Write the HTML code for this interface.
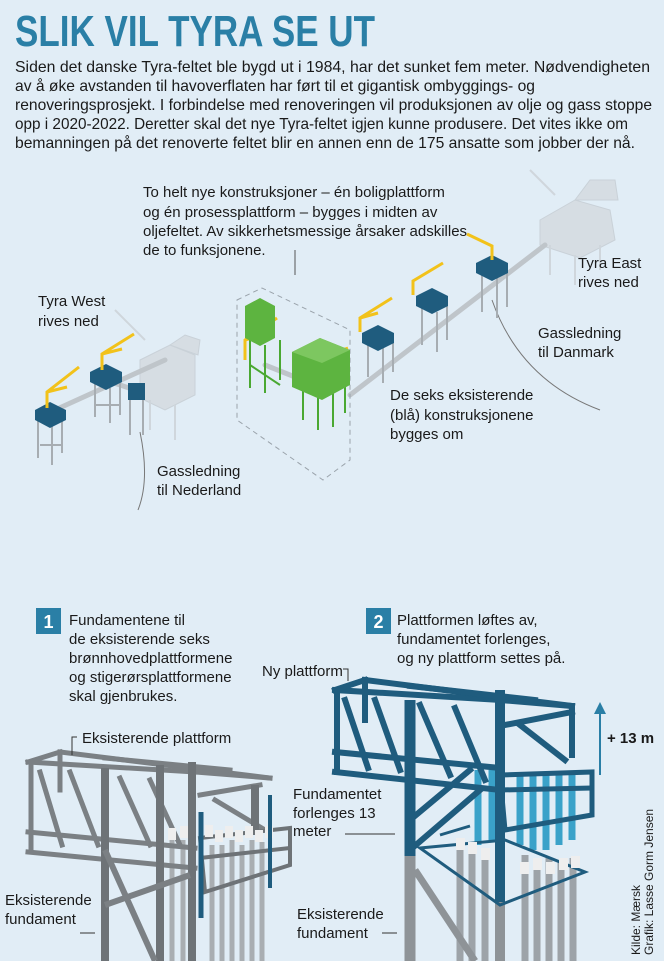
<!DOCTYPE html>
<html><head><meta charset="utf-8"><style>
html,body{margin:0;padding:0;background:#e1edf6;}
svg{display:block}
text{font-family:"Liberation Sans Narrow","Liberation Sans",sans-serif;fill:#1a1a1a}
</style></head><body>
<svg width="664" height="961" viewBox="0 0 664 961" xmlns="http://www.w3.org/2000/svg">
<rect width="664" height="961" fill="#e1edf6"/>
<text x="15" y="46" font-size="44" font-weight="bold" style="fill:#2a7fa6" textLength="360" lengthAdjust="spacingAndGlyphs">SLIK VIL TYRA SE UT</text>
<g font-size="16">
<text x="15" y="72" textLength="635" lengthAdjust="spacingAndGlyphs">Siden det danske Tyra-feltet ble bygd ut i 1984, har det sunket fem meter. Nødvendigheten</text>
<text x="15" y="91" textLength="520" lengthAdjust="spacingAndGlyphs">av å øke avstanden til havoverflaten har ført til et gigantisk ombyggings- og</text>
<text x="15" y="110" textLength="637" lengthAdjust="spacingAndGlyphs">renoveringsprosjekt. I forbindelse med renoveringen vil produksjonen av olje og gass stoppe</text>
<text x="15" y="129" textLength="613" lengthAdjust="spacingAndGlyphs">opp i 2020-2022. Deretter skal det nye Tyra-feltet igjen kunne produsere. Det vites ikke om</text>
<text x="15" y="148" textLength="620" lengthAdjust="spacingAndGlyphs">bemanningen på det renoverte feltet blir en annen enn de 175 ansatte som jobber der nå.</text>
</g>

<!-- map -->
<g>
<g fill="#d6dde3" stroke="#c9d1d8">
<polygon points="140,360 170,345 195,355 195,395 165,410 140,398"/>
<polygon points="170,345 185,335 200,340 198,355"/>
<polygon points="540,220 575,200 610,210 615,240 580,258 540,245"/>
<polygon points="575,200 590,180 615,180 618,200"/>
</g>
<g stroke="#cfd6dc" stroke-width="2">
<line x1="150" y1="400" x2="150" y2="430"/><line x1="175" y1="405" x2="175" y2="440"/>
<line x1="550" y1="245" x2="550" y2="275"/><line x1="575" y1="255" x2="575" y2="285"/><line x1="600" y1="245" x2="600" y2="270"/>
<line x1="115" y1="310" x2="145" y2="340"/><line x1="530" y1="170" x2="555" y2="195"/>
</g>
<g stroke="#bfc5ca" stroke-width="5" stroke-linecap="round">
<line x1="55" y1="410" x2="165" y2="360"/>
<line x1="105" y1="380" x2="135" y2="390"/>
<line x1="265" y1="365" x2="310" y2="383"/>
<line x1="350" y1="395" x2="545" y2="245"/>
</g>
<polygon points="237,300 262,288 350,330 350,460 323,480 237,420" fill="none" stroke="#9aa3ab" stroke-dasharray="5,4"/>
<line x1="295" y1="250" x2="295" y2="275" stroke="#555"/>
<path d="M140 432 Q150 480 138 510" fill="none" stroke="#777"/>
<path d="M492 300 Q520 380 600 410" fill="none" stroke="#777"/>
<g stroke="#a7adb2" stroke-width="2" fill="none">
<path d="M38 418 v40 M52 425 v40 M62 418 v35 M40 445 h22"/>
<path d="M95 382 v35 M110 388 v35 M120 380 v35 M95 405 h25"/>
<path d="M130 400 v35 M143 400 v35"/>
<path d="M368 342 v35 M383 348 v35 M393 342 v30"/>
<path d="M422 305 v40 M437 312 v40 M447 305 v35"/>
<path d="M482 272 v40 M497 278 v40 M507 272 v35"/>
</g>
<g fill="#1f5c7e">
<polygon points="35,410 50,402 66,410 66,420 50,428 35,420"/>
<polygon points="90,372 106,364 122,372 122,382 106,390 90,382"/>
<rect x="128" y="383" width="17" height="17"/>
<polygon points="362,333 378,325 394,333 394,343 378,351 362,343"/>
<polygon points="416,296 432,288 448,296 448,306 432,314 416,306"/>
<polygon points="476,263 492,255 508,263 508,273 492,281 476,273"/>
</g>
<g stroke="#f2c21a" stroke-width="3" fill="none">
<path d="M47 408 v-16 l32 -25 M47 392 l20 -5"/>
<path d="M102 370 v-16 l32 -20 M102 354 l20 -5"/>
<path d="M360 332 v-14 l32 -20 M360 318 l18 -5"/>
<path d="M413 295 v-14 l30 -18"/>
<path d="M492 260 v-14 l-25 -12"/>
<path d="M245 360 v-20 l32 -22 M245 340 l18 -5"/>
<path d="M320 370 v-12 l28 -10"/>
</g>
<g stroke="#4aa832" stroke-width="2" fill="none">
<path d="M250 340 v48 M265 345 v48 M280 340 v40 M250 365 l30 20"/>
<path d="M303 390 v30 M318 395 v35 M333 392 v35 M345 385 v28"/>
</g>
<g fill="#5db440">
<polygon points="245,306 260,298 275,306 275,338 260,346 245,338"/>
<polygon points="292,352 320,338 350,350 350,385 322,400 292,387"/>
</g>
<g fill="#7dc760"><polygon points="292,352 320,338 350,350 322,363"/></g>
</g>
<g font-size="15">
<text x="143" y="197">To helt nye konstruksjoner – én boligplattform</text>
<text x="143" y="217">og én prosessplattform – bygges i midten av</text>
<text x="143" y="236">oljefeltet. Av sikkerhetsmessige årsaker adskilles</text>
<text x="143" y="255">de to funksjonene.</text>
<text x="578" y="268">Tyra East</text><text x="578" y="287">rives ned</text>
<text x="38" y="306">Tyra West</text><text x="38" y="326">rives ned</text>
<text x="538" y="338">Gassledning</text><text x="538" y="357">til Danmark</text>
<text x="390" y="400">De seks eksisterende</text><text x="390" y="420">(blå) konstruksjonene</text><text x="390" y="439">bygges om</text>
<text x="157" y="476">Gassledning</text><text x="157" y="495">til Nederland</text>
</g>

<!-- LEFT gray structure -->
<g stroke="#a9aeb2" stroke-width="5">
<line x1="172" y1="835" x2="172" y2="961"/><line x1="183" y1="840" x2="183" y2="961"/>
<line x1="212" y1="845" x2="212" y2="961"/><line x1="222" y1="845" x2="222" y2="961"/>
<line x1="232" y1="840" x2="232" y2="961"/><line x1="242" y1="845" x2="242" y2="961"/>
<line x1="252" y1="840" x2="252" y2="961"/><line x1="262" y1="842" x2="262" y2="961"/>
</g>
<g stroke="#7b8084" stroke-width="5" fill="none" stroke-linecap="square">
<line x1="28" y1="762" x2="195" y2="772"/>
<line x1="60" y1="752" x2="270" y2="778"/>
<line x1="28" y1="762" x2="60" y2="752"/>
<line x1="195" y1="772" x2="270" y2="778"/>
<line x1="105" y1="758" x2="230" y2="770"/>
<line x1="28" y1="852" x2="195" y2="868"/>
<line x1="28" y1="832" x2="195" y2="848"/>
<line x1="31" y1="762" x2="31" y2="852"/>
<line x1="60" y1="752" x2="60" y2="790"/>
<line x1="40" y1="772" x2="62" y2="845"/>
<line x1="70" y1="772" x2="98" y2="845"/>
<line x1="120" y1="778" x2="150" y2="845"/>
<line x1="150" y1="780" x2="180" y2="845"/>
<line x1="200" y1="795" x2="260" y2="785"/>
<line x1="215" y1="800" x2="265" y2="830"/>
</g>
<g stroke="#6e7377" stroke-width="8">
<line x1="105" y1="768" x2="105" y2="961"/>
<line x1="192" y1="762" x2="192" y2="961"/>
<line x1="160" y1="765" x2="160" y2="961"/>
<line x1="255" y1="785" x2="255" y2="835"/>
</g>
<g stroke="#7b8084" stroke-width="6">
<line x1="105" y1="850" x2="155" y2="961"/>
<line x1="105" y1="905" x2="190" y2="875"/>
</g>
<g stroke="#6e7377" stroke-width="4" fill="none">
<polygon points="200,838 290,828 290,865 205,892"/>
<line x1="200" y1="858" x2="290" y2="848"/>
</g>
<g fill="#eeeeee">
<rect x="168" y="828" width="8" height="12"/><rect x="180" y="826" width="8" height="12"/>
<rect x="205" y="825" width="8" height="12"/><rect x="215" y="830" width="8" height="12"/>
<rect x="225" y="826" width="8" height="12"/><rect x="235" y="830" width="8" height="12"/>
<rect x="245" y="826" width="8" height="12"/><rect x="255" y="830" width="8" height="12"/>
<rect x="265" y="826" width="8" height="12"/>
</g>
<line x1="201" y1="812" x2="201" y2="918" stroke="#1f5c7e" stroke-width="5"/>
<line x1="270" y1="795" x2="270" y2="888" stroke="#1f5c7e" stroke-width="4"/>

<!-- RIGHT blue structure -->
<g stroke="#9da3a8" stroke-width="7">
<line x1="460" y1="840" x2="460" y2="961"/><line x1="472" y1="845" x2="472" y2="961"/>
<line x1="525" y1="855" x2="525" y2="961"/><line x1="537" y1="860" x2="537" y2="961"/>
<line x1="549" y1="858" x2="549" y2="961"/><line x1="561" y1="860" x2="561" y2="961"/>
<line x1="573" y1="858" x2="573" y2="961"/><line x1="485" y1="850" x2="485" y2="961"/>
</g>
<line x1="415" y1="870" x2="475" y2="961" stroke="#8e9397" stroke-width="7"/>
<line x1="410" y1="855" x2="410" y2="961" stroke="#8e9397" stroke-width="11"/>
<line x1="500" y1="900" x2="500" y2="961" stroke="#8e9397" stroke-width="10"/>
<g stroke="#3aa2c9" stroke-width="7">
<line x1="478" y1="770" x2="478" y2="845"/><line x1="492" y1="770" x2="492" y2="840"/>
<line x1="520" y1="775" x2="520" y2="845"/><line x1="533" y1="775" x2="533" y2="850"/>
<line x1="546" y1="772" x2="546" y2="850"/><line x1="559" y1="772" x2="559" y2="845"/>
<line x1="572" y1="772" x2="572" y2="840"/>
</g>
<g stroke="#1f5c7e" stroke-width="6" fill="none" stroke-linecap="square">
<line x1="335" y1="690" x2="500" y2="700"/>
<line x1="365" y1="680" x2="572" y2="706"/>
<line x1="335" y1="690" x2="365" y2="680"/>
<line x1="500" y1="700" x2="572" y2="706"/>
<line x1="410" y1="686" x2="535" y2="700"/>
<line x1="335" y1="772" x2="500" y2="790"/>
<line x1="335" y1="752" x2="500" y2="768"/>
<line x1="337" y1="690" x2="337" y2="772"/>
<line x1="365" y1="680" x2="365" y2="720"/>
<line x1="345" y1="700" x2="368" y2="768"/>
<line x1="375" y1="700" x2="400" y2="770"/>
<line x1="420" y1="705" x2="450" y2="775"/>
<line x1="455" y1="708" x2="485" y2="780"/>
<line x1="505" y1="725" x2="572" y2="712"/>
<line x1="520" y1="725" x2="565" y2="760"/>
<line x1="572" y1="706" x2="572" y2="755"/>
<line x1="410" y1="850" x2="480" y2="790"/>
<line x1="410" y1="820" x2="470" y2="770"/>
</g>
<g stroke="#1f5c7e" stroke-width="11">
<line x1="410" y1="700" x2="410" y2="856"/>
</g>
<line x1="500" y1="690" x2="500" y2="902" stroke="#1f5c7e" stroke-width="10"/>
<g stroke="#1f5c7e" stroke-width="5" fill="none">
<polygon points="500,775 592,772 592,815 505,830"/>
<line x1="500" y1="790" x2="592" y2="788"/>
</g>
<g stroke="#1f5c7e" stroke-width="3" fill="none">
<polygon points="420,848 505,840 585,872 500,905"/>
<line x1="440" y1="835" x2="470" y2="826"/>
</g>
<g fill="#eeeeee">
<rect x="456" y="838" width="9" height="12"/><rect x="468" y="842" width="9" height="12"/>
<rect x="481" y="848" width="9" height="12"/><rect x="520" y="862" width="9" height="12"/>
<rect x="533" y="858" width="9" height="12"/><rect x="546" y="862" width="9" height="12"/>
<rect x="559" y="858" width="9" height="12"/><rect x="571" y="856" width="9" height="12"/>
</g>

<!-- arrow -->
<line x1="600" y1="775" x2="600" y2="712" stroke="#2a7fa6" stroke-width="2"/>
<polygon points="594,714 600,702 606,714" fill="#2a7fa6"/>
<!-- boxes -->
<rect x="36" y="608" width="25" height="26" fill="#2a7fa6"/>
<text x="48.5" y="628" font-size="18" font-weight="bold" text-anchor="middle" style="fill:#fff">1</text>
<rect x="366" y="608" width="25" height="26" fill="#2a7fa6"/>
<text x="378.5" y="628" font-size="18" font-weight="bold" text-anchor="middle" style="fill:#fff">2</text>
<g font-size="15">
<text x="69" y="625">Fundamentene til</text>
<text x="69" y="644">de eksisterende seks</text>
<text x="69" y="663">brønnhovedplattformene</text>
<text x="69" y="682">og stigerørsplattformene</text>
<text x="69" y="701">skal gjenbrukes.</text>
<text x="397" y="625">Plattformen løftes av,</text>
<text x="397" y="644">fundamentet forlenges,</text>
<text x="397" y="663">og ny plattform settes på.</text>
<text x="262" y="676">Ny plattform</text>
<text x="82" y="743">Eksisterende plattform</text>
<text x="607" y="743" font-weight="bold">+ 13 m</text>
<text x="293" y="799">Fundamentet</text>
<text x="293" y="818">forlenges 13</text>
<text x="293" y="836">meter</text>
<text x="5" y="905">Eksisterende</text>
<text x="5" y="924">fundament</text>
<text x="297" y="919">Eksisterende</text>
<text x="297" y="938">fundament</text>
</g>
<g stroke="#333" fill="none">
<path d="M343 669 h5 v12"/>
<path d="M77 737 h-5 v18"/>
<line x1="345" y1="834" x2="395" y2="834"/>
<line x1="80" y1="933" x2="95" y2="933"/>
<line x1="382" y1="933" x2="397" y2="933"/>
</g>
<g font-size="12" transform="rotate(-90)">
<text x="-955" y="640">Kilde: Mærsk</text>
<text x="-955" y="653">Grafik: Lasse Gorm Jensen</text>
</g>
</svg>
</body></html>
